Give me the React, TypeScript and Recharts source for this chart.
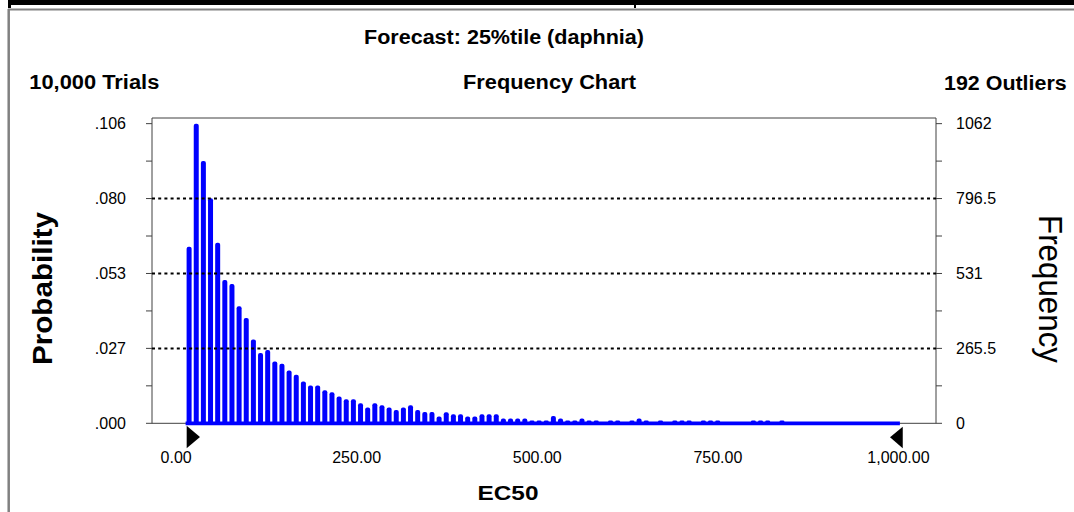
import React from 'react';
import { BarChart, Bar, XAxis, YAxis, ReferenceLine, ReferenceArea, ReferenceDot } from 'recharts';

// Frequency counts per bin (100 bins, 10,000 trials)
const counts = [
  626, 1062, 930, 798, 640, 508, 494, 415, 373, 297,
  249, 260, 219, 211, 187, 172, 148, 134, 134, 117,
  110, 95, 85, 85, 71, 56, 71, 64, 56, 47,
  56, 64, 47, 40, 40, 24, 39, 32, 32, 24,
  24, 32, 32, 32, 17, 17, 17, 17, 10, 10,
  10, 26, 17, 10, 10, 17, 10, 10, 0, 10,
  10, 0, 10, 17, 10, 0, 10, 0, 10, 10,
  10, 0, 10, 10, 10, 0, 0, 0, 0, 10,
  10, 10, 0, 10, 0, 0, 0, 0, 0, 0,
  0, 0, 0, 0, 0, 0, 0, 0, 0, 0,
];
const binLabels = counts.map((_, i) => `${i + 1}`);

const freqTicks = [0, 265.5, 531, 796.5, 1062];
const probLabels = ['.000', '.027', '.053', '.080', '.106'];
const freqLabels = ['0', '265.5', '531', '796.5', '1062'];
const gridValues = [265.5, 531, 796.5];
const ec50Ticks = [0, 250, 500, 750, 1000];
const ec50Labels = ['0.00', '250.00', '500.00', '750.00', '1,000.00'];
const binMarks = [12.5, 25, 37.5, 50, 62.5, 75, 87.5];

const Y_MAX = 1082;
const FONT = 'Liberation Sans, Arial, Helvetica, sans-serif';

const data = binLabels.map((b, i) => ({ bin: b, idx: i, count: counts[i] }));
const minorTicks = freqTicks.slice(1).map((t, i) => (t + freqTicks[i]) / 2);
const allYTicks = [...freqTicks, ...minorTicks].sort((a, b) => a - b);

const leftFmt = (v: number) => {
  const i = freqTicks.indexOf(v);
  return i >= 0 ? probLabels[i] : '';
};
const rightFmt = (v: number) => {
  const i = freqTicks.indexOf(v);
  return i >= 0 ? freqLabels[i] : '';
};
const ecFmt = (v: number) => {
  const i = ec50Ticks.indexOf(v);
  return i >= 0 ? ec50Labels[i] : '';
};

const LeftTri = (p: any) => (
  <polygon
    points={`${p.cx - 2.5},${p.cy + 2.4} ${p.cx + 10.8},${p.cy + 13.7} ${p.cx - 2.5},${p.cy + 25}`}
    fill="#000"
  />
);
const RightTri = (p: any) => (
  <polygon
    points={`${p.cx + 6.4},${p.cy + 3.4} ${p.cx - 6.3},${p.cy + 14} ${p.cx + 6.4},${p.cy + 25}`}
    fill="#000"
  />
);

const tickStyle = { fontSize: 16, fill: '#000', fontFamily: FONT };

export default function App() {
  return (
    <div style={{ position: 'absolute', left: 0, top: 0, width: 1074, height: 512, background: '#fff' }}>
      <BarChart
        width={1074}
        height={512}
        data={data}
        margin={{ top: 118, left: 92, right: 78, bottom: 42.7 }}
        barCategoryGap={0}
      >
        <XAxis
          xAxisId="bins"
          dataKey="bin"
          hide
          height={0}
          padding={{ left: 33.6, right: 36.1 }}
        />
        <XAxis
          xAxisId="tk"
          dataKey="idx"
          type="number"
          domain={[-4.858, 104.9]}
          allowDataOverflow
          ticks={binMarks}
          interval={0}
          tick={false}
          tickSize={5.5}
          tickLine={{ stroke: '#404040' }}
          axisLine={false}
          height={6}
        />
        <XAxis
          xAxisId="lbl"
          dataKey="idx"
          type="number"
          domain={[-33.37, 1052.0]}
          allowDataOverflow
          ticks={ec50Ticks}
          interval={0}
          tickFormatter={ecFmt}
          tickSize={0}
          tickMargin={28.8}
          tickLine={false}
          axisLine={false}
          tick={tickStyle}
          height={40}
        />
        <YAxis
          yAxisId="left"
          orientation="left"
          width={60}
          domain={[0, Y_MAX]}
          allowDataOverflow
          ticks={allYTicks}
          interval={0}
          tickFormatter={leftFmt}
          tickSize={6}
          tickMargin={20}
          tickLine={{ stroke: '#404040' }}
          axisLine={false}
          tick={tickStyle}
        />
        <YAxis
          yAxisId="right"
          orientation="right"
          width={60}
          domain={[0, Y_MAX]}
          allowDataOverflow
          ticks={allYTicks}
          interval={0}
          tickFormatter={rightFmt}
          tickSize={6}
          tickMargin={14}
          tickLine={{ stroke: '#404040' }}
          axisLine={false}
          tick={{ ...tickStyle, textAnchor: 'start' }}
        />
        <ReferenceArea
          xAxisId="tk"
          yAxisId="left"
          y1={0}
          y2={Y_MAX}
          fill="none"
          fillOpacity={0}
          stroke="#404040"
          strokeWidth={1}
          ifOverflow="visible"
        />
        {gridValues.map((v) => (
          <ReferenceLine
            key={v}
            xAxisId="tk"
            yAxisId="left"
            y={v}
            stroke="#000"
            strokeWidth={2}
            strokeDasharray="3 3.2"
          />
        ))}
        <Bar
          xAxisId="bins"
          yAxisId="left"
          dataKey="count"
          fill="#0000ff"
          barSize={5}
          radius={[2, 2, 0, 0]}
          isAnimationActive={false}
        />
        <ReferenceArea
          xAxisId="bins"
          yAxisId="left"
          x1={binLabels[0]}
          x2={binLabels[binLabels.length - 1]}
          y1={-7}
          y2={6}
          fill="#0000ff"
          fillOpacity={1}
          stroke="none"
          ifOverflow="visible"
        />
        <ReferenceDot
          xAxisId="bins"
          yAxisId="left"
          x={binLabels[0]}
          y={0}
          ifOverflow="visible"
          shape={LeftTri}
        />
        <ReferenceDot
          xAxisId="bins"
          yAxisId="left"
          x={binLabels[binLabels.length - 1]}
          y={0}
          ifOverflow="visible"
          shape={RightTri}
        />
      </BarChart>
      <svg
        width={1074}
        height={512}
        style={{ position: 'absolute', left: 0, top: 0, pointerEvents: 'none' }}
        fontFamily={FONT}
      >
        <rect x={8} y={0} width={1066} height={5} fill="#000" />
        <rect x={8} y={0} width={3} height={8} fill="#000" />
        <rect x={634} y={0} width={2} height={8} fill="#000" />
        <line x1={8} y1={9.5} x2={1074} y2={9.5} stroke="#808080" strokeWidth={2} />
        <line x1={8.7} y1={9} x2={8.7} y2={512} stroke="#808080" strokeWidth={2.5} />
        <text x={504} y={43.5} textAnchor="middle" fontWeight="bold" fontSize={20} textLength={280} lengthAdjust="spacingAndGlyphs" fill="#000">
          Forecast: 25%tile (daphnia)
        </text>
        <text x={29.3} y={89.3} fontWeight="bold" fontSize={20} textLength={130} lengthAdjust="spacingAndGlyphs" fill="#000">
          10,000 Trials
        </text>
        <text x={549.5} y={89.3} textAnchor="middle" fontWeight="bold" fontSize={20} textLength={173} lengthAdjust="spacingAndGlyphs" fill="#000">
          Frequency Chart
        </text>
        <text x={944} y={89.5} fontWeight="bold" fontSize={20} textLength={122.7} lengthAdjust="spacingAndGlyphs" fill="#000">
          192 Outliers
        </text>
        <text x={52} y={288.5} transform="rotate(-90 52 288.5)" textAnchor="middle" fontWeight="bold" fontSize={28} textLength={153} lengthAdjust="spacingAndGlyphs" fill="#000">
          Probability
        </text>
        <text x={1038.6} y={289} transform="rotate(90 1038.6 289)" textAnchor="middle" fontSize={34} textLength={148} lengthAdjust="spacingAndGlyphs" fill="#000">
          Frequency
        </text>
        <text x={508} y={500} textAnchor="middle" fontWeight="bold" fontSize={20} textLength={61} lengthAdjust="spacingAndGlyphs" fill="#000">
          EC50
        </text>
      </svg>
    </div>
  );
}
